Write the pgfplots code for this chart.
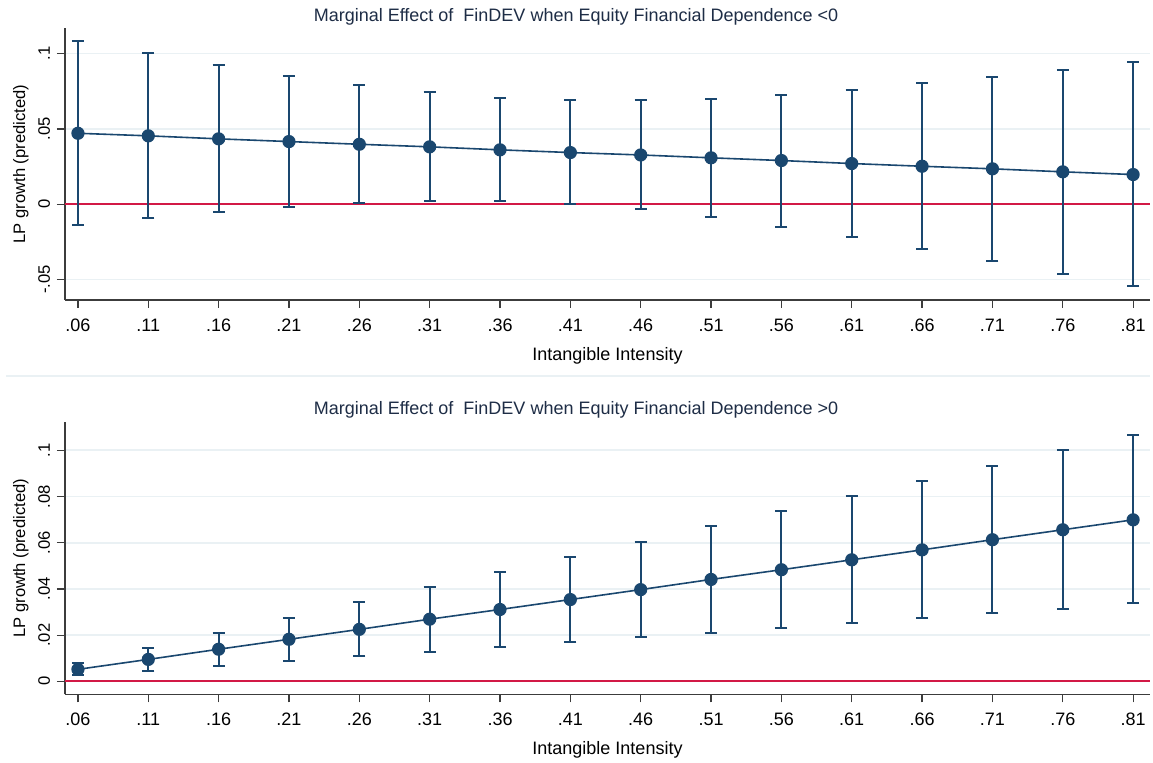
\documentclass[border=0pt]{standalone}
\usepackage{fontspec}
\setmainfont{Liberation Sans}
\usepackage{pgfplots}
\usepackage{pgfplotstable}
\pgfplotsset{compat=1.18}
\definecolor{snavy}{RGB}{26,71,111}
\definecolor{szero}{RGB}{210,25,70}
\definecolor{sgrid}{RGB}{234,241,244}
\definecolor{stitle}{RGB}{30,45,70}
\definecolor{saxis}{RGB}{60,60,60}

\pgfplotstableread{
x y lo hi
0.06 0.0471 -0.0137 0.1082
0.11 0.0454 -0.0093 0.1004
0.16 0.0434 -0.0051 0.0925
0.21 0.0416 -0.0018 0.0854
0.26 0.0398 0.0007 0.0792
0.31 0.0381 0.0022 0.0743
0.36 0.0361 0.0020 0.0706
0.41 0.0343 0.0002 0.0692
0.46 0.0327 -0.0035 0.0692
0.51 0.0308 -0.0086 0.0701
0.56 0.0290 -0.0150 0.0728
0.61 0.0270 -0.0221 0.0761
0.66 0.0252 -0.0296 0.0803
0.71 0.0235 -0.0376 0.0845
0.76 0.0215 -0.0462 0.0892
0.81 0.0197 -0.0546 0.0945
}\topdata

\pgfplotstableread{
x y lo hi
0.06 0.0052 0.0026 0.0079
0.11 0.0095 0.0045 0.0146
0.16 0.0139 0.0068 0.0210
0.21 0.0182 0.0087 0.0276
0.26 0.0225 0.0108 0.0342
0.31 0.0269 0.0129 0.0408
0.36 0.0311 0.0150 0.0473
0.41 0.0354 0.0171 0.0538
0.46 0.0397 0.0191 0.0604
0.51 0.0441 0.0211 0.0671
0.56 0.0483 0.0231 0.0736
0.61 0.0526 0.0253 0.0801
0.66 0.0569 0.0273 0.0868
0.71 0.0613 0.0295 0.0932
0.76 0.0656 0.0315 0.0999
0.81 0.0699 0.0337 0.1064
}\botdata

\pgfplotsset{
  statastyle/.style={
    scale only axis,
    width=542.5pt,
    height=136pt,
    anchor=south west,
    axis lines*=left,
    axis line style={saxis, line width=0.7pt},
    xmin=0.0508, xmax=0.822,
    xtick={0.06,0.11,...,0.82},
    xticklabels={.06,.11,.16,.21,.26,.31,.36,.41,.46,.51,.56,.61,.66,.71,.76,.81},
    tick align=outside,
    major tick length=4pt,
    tick style={saxis, line width=0.6pt},
    ymajorgrids,
    grid style={sgrid, line width=0.8pt},
    xticklabel style={font=\fontsize{9}{11}\selectfont, text=black, yshift=-2pt},
    yticklabel style={font=\fontsize{8.3}{10}\selectfont, text=black, rotate=90, anchor=south},
    xlabel={Intangible Intensity},
    ylabel={LP growth (predicted)},
    xlabel style={font=\fontsize{9}{11}\selectfont, yshift=-1pt},
    ylabel style={font=\fontsize{8.3}{10}\selectfont, yshift=-2pt},
    clip=false,
  },
  ptstyle/.style={
    snavy, line width=0.8pt,
    mark=*, mark size=2.9pt, mark options={snavy, fill=snavy},
    error bars/.cd, y dir=both, y explicit,
    error bar style={snavy, line width=1pt},
    error mark options={snavy, rotate=90, mark size=3pt, line width=1pt},
  },
}

\begin{document}
\begin{tikzpicture}
\useasboundingbox (0,0) rectangle (576.5pt,381pt);
\fill[white] (0,0) rectangle (576.5pt,381pt);
\draw[sgrid, line width=1pt] (3pt,193pt) -- (575pt,193pt);

\node[text=stitle, font=\fontsize{9}{11}\selectfont] at (288pt,372.5pt) {Marginal Effect of \ FinDEV when Equity Financial Dependence <0};
\node[text=stitle, font=\fontsize{9}{11}\selectfont] at (288pt,176pt) {Marginal Effect of \ FinDEV when Equity Financial Dependence >0};

\begin{axis}[statastyle, at={(32.5pt,231pt)},
  ymin=-0.0636, ymax=0.117,
  ytick={-0.05,0,0.05,0.1},
  yticklabels={-.05,0,.05,.1}]
  \addplot[szero, line width=0.9pt] coordinates {(0.0508,0) (0.822,0)};
  \addplot[ptstyle] table[x=x, y=y,
     y error plus expr=\thisrow{hi}-\thisrow{y},
     y error minus expr=\thisrow{y}-\thisrow{lo}] {\topdata};
\end{axis}

\begin{axis}[statastyle, at={(32.5pt,33.85pt)},
  ymin=-0.0056, ymax=0.1121,
  ytick={0,0.02,0.04,0.06,0.08,0.1},
  yticklabels={0,.02,.04,.06,.08,.1}]
  \addplot[szero, line width=0.9pt] coordinates {(0.0508,0) (0.822,0)};
  \addplot[ptstyle] table[x=x, y=y,
     y error plus expr=\thisrow{hi}-\thisrow{y},
     y error minus expr=\thisrow{y}-\thisrow{lo}] {\botdata};
\end{axis}
\end{tikzpicture}
\end{document}
